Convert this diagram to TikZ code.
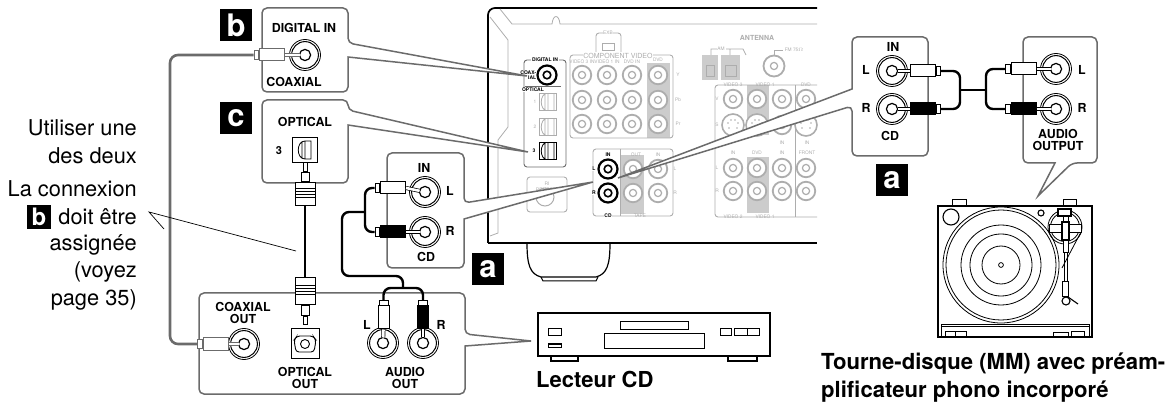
\documentclass[tikz,border=0pt]{standalone}
\usepackage{fontspec}
\setmainfont{TeX Gyre Heros}
\usetikzlibrary{positioning}
\definecolor{panelgray}{gray}{0.42}
\definecolor{backgray}{gray}{0.68}
\definecolor{fillgray}{gray}{0.80}
\tikzset{
  panel/.style={draw=panelgray, line width=1.5pt, fill=white, rounded corners=5pt},
  paneltxt/.style={font=\fontsize{12.4}{12.8}\selectfont\bfseries, align=center, inner sep=0pt},
  sidetxt/.style={font=\fontsize{21.8}{27.5}\selectfont, align=right, anchor=east, inner sep=0pt},
  captxt/.style={font=\fontsize{22}{29}\selectfont\bfseries, align=left, anchor=west, inner sep=0pt},
  tinytxt/.style={font=\fontsize{4.8}{5}\selectfont, text=backgray, inner sep=.6pt, fill=white},
  tinyblk/.style={font=\fontsize{5}{5}\selectfont\bfseries, inner sep=.6pt},
  tag/.style={fill=black, text=white, minimum size=32pt, inner sep=0pt, font=\fontsize{31}{31}\selectfont\bfseries},
  jack/.style={circle, draw=black, line width=.8pt, fill=white, minimum size=31pt, inner sep=0pt,
    path picture={
      \draw[line width=1pt] (path picture bounding box.center) circle (13.4pt);
      \draw[line width=1.2pt] (path picture bounding box.center) circle (5.6pt);}},
  backjack/.style={circle, draw=backgray, line width=1.8pt, fill=white, minimum size=18.5pt, inner sep=0pt,
    path picture={\draw[backgray, line width=1.2pt] (path picture bounding box.center) circle (3.6pt);}},
  darkjack/.style={circle, draw=black, line width=2.2pt, fill=white, minimum size=19pt, inner sep=0pt,
    path picture={\draw[line width=1.6pt] (path picture bounding box.center) circle (3.8pt);}},
  svideo/.style={circle, draw=backgray, line width=1.6pt, fill=white, minimum size=22pt, inner sep=0pt,
    path picture={
      \foreach \dx/\dy in {-4/-3,4/-3,-5/2,5/2,-2/5,2/5}
        \fill[backgray] ([shift={(\dx pt,\dy pt)}]path picture bounding box.center) circle (.9pt);}},
  plug/.style={rectangle, draw=#1, line width=1pt, minimum width=25pt, minimum height=12pt, inner sep=0pt},
  plug/.default=black,
  ferrule/.style={rectangle, draw=#1, line width=.8pt, fill=white, minimum width=4.5pt, minimum height=9pt, inner sep=0pt},
  ferrule/.default=black,
  vplug/.style={plug, minimum width=11pt, minimum height=23pt},
  vferrule/.style={ferrule, minimum width=9pt, minimum height=4.5pt},
  plugtip/.style={draw=#1, line width=.7pt, double=white, double distance=2.6pt, shorten >=5.5pt},
  plugtip/.default=black,
  blackcable/.style={line width=2.4pt, rounded corners=7pt},
  graycable/.style={draw=panelgray, line width=2.6pt, rounded corners=8pt},
  opthead/.style={rectangle, draw, line width=1pt, fill=white, minimum width=20pt, inner sep=0pt,
    path picture={
      \foreach \yy in {-3,0,3,6}
        \draw[line width=.8pt] ([yshift=\yy pt]path picture bounding box.west) -- ([yshift=\yy pt]path picture bounding box.east);}},
  optcollar/.style={rectangle, draw, line width=1pt, fill=white, minimum width=8pt, minimum height=9.5pt, inner sep=0pt},
  opttip/.style={rectangle, draw, line width=1pt, fill=white, minimum width=4pt, minimum height=8.5pt, inner sep=0pt},
  optbox/.style n args={3}{rectangle, draw=#1, line width=#3, fill=white, minimum size=#2*25pt, inner sep=0pt,
    path picture={
      \draw[#1, shift={(path picture bounding box.center)}, scale=#2, line width=.8pt]
        (0,-9) .. controls (-9,-9) and (-9,9) .. (0,9) -- (6,9) -- (6,-9) -- cycle
        (-3,-8.4) -- (-3,8.4) (0,-9) -- (0,9);}},
  tonethin/.style={line width=.8pt},
  tonemid/.style={line width=1.1pt},
}
\begin{document}
\begin{tikzpicture}[x=1pt,y=-1pt]
\useasboundingbox (0,0) rectangle (1171,406);

% receiver outline
\draw[line width=1.7pt, rounded corners=7pt] (817,8) -- (488,8) -- (488,243);
\draw[line width=1.7pt] (488,243) -- (817,243);
\draw[line width=1.2pt] (527,243) .. controls (527,265) and (530,274) .. (541,277) -- (596,277)
  .. controls (607,274) and (610,265) .. (610,243);
\draw[line width=1pt] (541,277) -- (543,281) -- (596,281) -- (598,277);
\draw[backgray, line width=.8pt] (500,9) -- (512,24) -- (552,24) .. controls (553,14) and (559,14) .. (560,24) -- (817,24);
\draw[backgray, line width=.8pt] (490,17) -- (508,40) -- (508,127) -- (498,140) -- (498,233) -- (490,236);

% grey fields
\fill[fillgray] (647,63) rectangle (670,138);
\fill[fillgray] (621,155) rectangle (644,214);
\fill[fillgray] (747,85) rectangle (769,135);
\fill[fillgray] (747,157) rectangle (769,213);

% frames on the back
\draw[panelgray, line width=.9pt, rounded corners=3pt] (524,60) rectangle (566,167);
\draw[panelgray, line width=.9pt] (525,86) -- (561,86);
\draw[backgray, line width=.9pt, rounded corners=3pt] (570,55) rectangle (673,138);
\draw[backgray, line width=.9pt, rounded corners=3pt] (593,149) rectangle (673,216);
\draw[backgray, line width=.9pt] (620,149) -- (620,216);
\draw[backgray, line width=.9pt, rounded corners=3pt] (817,85) -- (715,85) -- (715,217) -- (817,217);
\draw[backgray, line width=.9pt] (795,85) -- (795,217);
\draw[backgray, line width=.9pt, rounded corners=3pt] (596,52) -- (596,33) -- (621,33) -- (621,52);
\draw[backgray, line width=.9pt] (602,43) rectangle (614,50);
\draw[backgray, line width=.9pt, rounded corners=3pt] (527,212) -- (527,177) -- (567,177) -- (567,212) -- cycle;
\node[circle, draw=backgray, line width=1pt, minimum size=18pt] (backrem) at (545,197) {};

% back jacks
\foreach \x in {582,607,632,658}
  \foreach \y in {75,100,124}
    \node[backjack] (bk\x-\y) at (\x,\y) {};
\foreach \x/\y in {633/169,658/169,633/193,658/193,733/99,757/99,782/99,806/99,733/168,757/168,782/168,806/168,733/191,757/191,782/191,806/191,782/125}
  \node[backjack] (bk\x-\y) at (\x,\y) {};
\foreach \x in {733,757,806}
  \node[svideo] (sv\x) at (\x,125) {};
\node[backjack, minimum size=21pt] (bkfm) at (774,66) {};
\node[darkjack] (dkdig) at (547,75) {};
\node[darkjack] (dkl) at (608,169) {};
\node[darkjack] (dkr) at (608,193) {};
\node[optbox={backgray}{.68}{.9pt}] (bkopta) at (548,102) {};
\node[optbox={backgray}{.68}{.9pt}] (bkoptb) at (548,127) {};
\node[optbox={black}{.68}{1.6pt}] (bkoptc) at (548,151) {};

% antenna
\foreach \x/\w in {702/16,721/19} {
  \fill[fillgray] (\x,55) rectangle ++(\w,25);
  \draw[backgray, line width=.8pt] (\x+4,65) rectangle ++(\w-8,11);
}
\draw[backgray, line width=.8pt] (711,55) -- (711,49) -- (717,49) (726,49) -- (730,49) -- (730,55) (730,49) -- (743,49) -- (746,55);
\draw[backgray, line width=.8pt] (774,56) -- (774,50) -- (783,50);
\node[tinytxt, font=\fontsize{7}{7}\selectfont\bfseries] (antname) at (757,38) {ANTENNA};
\node[tinytxt] (antam) at (721,49) {AM};
\node[tinytxt, right=1pt of {(783,50)}] (antfm) {FM 75$\Omega$};

% texts on the back
\node[tinytxt, font=\fontsize{7}{7}\selectfont] (txcomp) at (618,56) {COMPONENT VIDEO};
\node[tinytxt] (txexb) at (608,33) {EXB};
\foreach \x/\y/\t in {582/62/VIDEO 3 IN,607/62/VIDEO 1 IN,632/62/DVD IN,658/60/DVD,678/75/Y,678/100/Pb,678/124/Pr,
    535/102/1,535/127/2,636/155/OUT,658/155/IN,640/216/TAPE,675/169/L,675/193/R,547/184/RI,546/190/REMOTE,
    733/85/VIDEO 3,765/85/VIDEO 1,806/85/DVD,733/217/VIDEO 2,765/217/VIDEO 1,717/99/V,717/125/S,717/168/L,717/191/R,
    733/153/IN,757/153/DVD,782/153/IN,782/143/IN,807/143/IN,807/153/FRONT}
  \node[tinytxt, fill=none] at (\x,\y) {\t};
\foreach \x/\y/\t in {545/60/DIGITAL IN,533/90/OPTICAL,534/151/3,608/155/IN,594/169/L,594/193/R,608/216/CD}
  \node[tinyblk, fill=white] at (\x,\y) {\t};
\node[tinyblk, align=right, anchor=east] (txcoaxback) at (537,75) {COAX-\\IAL};

% tails
\coordinate (tipb) at (527,76);
\coordinate (tipc) at (528,152);
\coordinate (tipl) at (593,182);
\coordinate (tipr) at (618,178);
\coordinate (tipo) at (531,341);
\coordinate (tipt) at (1038,196);

% panels
\draw[panel] (262,8) -- (348,8) -- (348,43) [sharp corners] -- (tipb) -- (348,57) [rounded corners=5pt] -- (348,92) -- (262,92) -- cycle;
\draw[panel] (262,100) -- (348,100) -- (348,110) [sharp corners] -- (tipc) -- (348,125) [rounded corners=5pt] -- (348,183) -- (262,183) -- cycle;
\draw[panel] (199,293) -- (465,293) -- (465,334) [sharp corners] -- (tipo) -- (465,346) [rounded corners=5pt] -- (465,394) -- (199,394) -- cycle;
\draw[panel] (387,153) -- (464,153) -- (464,203) [sharp corners] -- (tipl) -- (464,219) [rounded corners=5pt] -- (464,268) -- (387,268) -- cycle;
\draw[panel] (852,37) -- (928,37) -- (928,156) -- (852,156) -- (852,106) [sharp corners] -- (tipr) -- (852,89) [rounded corners=5pt] -- cycle;
\draw[panel] (1023,37) -- (1097,37) -- (1097,163) -- (1072,163) [sharp corners] -- (tipt) -- (1055,163) [rounded corners=5pt] -- (1023,163) -- cycle;

% tags
\node[tag] (tagb) at (236,25) {b};
\node[tag] (tagc) at (236,118) {c};
\node[tag] (taga) at (488,269) {a};
\node[tag] (tagar) at (892,180) {a};

% panel texts
\node[paneltxt] (lbdig) at (304,28) {DIGITAL IN};
\node[paneltxt] (lbcoax) at (294,82) {COAXIAL};
\node[paneltxt] (lbopt) at (305,122) {OPTICAL};
\node[paneltxt, font=\fontsize{11}{11}\selectfont\bfseries] (lbthree) at (279,151) {3};
\node[paneltxt] (lbcout) at (243,313) {COAXIAL\\OUT};
\node[paneltxt] (lbopout) at (305,378) {OPTICAL\\OUT};
\node[paneltxt] (lbauout) at (405,378) {AUDIO\\OUT};
\node[paneltxt] (lbol) at (367,325) {L};
\node[paneltxt] (lbor) at (441,325) {R};
\node[paneltxt] (lbin) at (424,168) {IN};
\node[paneltxt] (lbl) at (450,191) {L};
\node[paneltxt] (lbr) at (450,231) {R};
\node[paneltxt] (lbcd) at (426,257) {CD};
\node[paneltxt] (lbtin) at (893,47) {IN};
\node[paneltxt] (lbtl) at (866,70) {L};
\node[paneltxt] (lbtr) at (866,108) {R};
\node[paneltxt] (lbtcd) at (890,136) {CD};
\node[paneltxt] (lbpl) at (1082,70) {L};
\node[paneltxt] (lbpr) at (1082,108) {R};
\node[paneltxt] (lbaudio) at (1058,140) {AUDIO\\OUTPUT};

% jacks
\foreach \n/\x/\y in {jdig/305/55,jcoax/244/344,jol/383/343,jor/423/343,jl/425/192,jr/425/232,jtl/892/71,jtr/892/109,jpl/1056/69,jpr/1056/109}
  \node[jack] (\n) at (\x,\y) {};

% optical sockets
\node[optbox={black}{1}{1pt}] (optin) at (305,150) {};
\node[rectangle, draw, line width=1pt, fill=white, minimum width=28pt, minimum height=29pt] (optout) at (305,343.5) {};
\draw[line width=.9pt, rounded corners=3pt] (297,336) -- (313,336) -- (316,340) -- (314,352) -- (296,352) -- (294,340) -- cycle;
\node[circle, draw, line width=.9pt, minimum size=9pt, inner sep=0pt] (optoutc) at (305,344) {};

% cables
\coordinate (coaxbend) at (170,200);
\coordinate (leftbend) at (365,212);
\coordinate (outbend) at (342,245);
\coordinate (joinup) at (403,276);
\coordinate (joinout) at (403,288);
\coordinate (lbendt) at (960,90);
\coordinate (rbendt) at (986,90);

% plugs
\foreach \n/\x/\y/\c/\d in {pdig/272/55/white/panelgray,pcoax/215.5/344/white/panelgray,
    pl/393/188/white/black,pr/393/232/black/black,ppl/1023.5/69/white/black,ppr/1023.5/109/black/black}
  \node[plug=\d, fill=\c] (\n) at (\x,\y) {} node[ferrule=\d, left=0pt of \n] (\n f) {};
\foreach \n/\x/\y/\c in {ptl/922.5/71/white,ptr/922.5/109/black}
  \node[plug, fill=\c] (\n) at (\x,\y) {} node[ferrule, right=0pt of \n] (\n f) {};
\foreach \n/\x/\y/\c in {pol/383.5/317.5/white,por/423/317.5/black}
  \node[vplug, fill=\c] (\n) at (\x,\y) {} node[vferrule, above=0pt of \n] (\n f) {};

% cables between the plugs
\draw[graycable] (pdigf.west) -| (coaxbend) |- (pcoaxf.west);
\draw[blackcable] (plf.west) -| (leftbend) |- (prf.west);
\draw[blackcable] (leftbend) -| (outbend) |- (joinup) -- (joinout);
\draw[blackcable] (polf.north) |- (joinout) -| (porf.north);
\draw[blackcable] (ptlf.east) -| (lbendt) |- (ptrf.east);
\draw[blackcable] (pplf.west) -| (rbendt) |- (pprf.west);
\draw[blackcable, rounded corners=0pt] (lbendt) -- (rbendt);

% plug tips
\draw[plugtip=panelgray] (pdig.east) -- (jdig.center);
\draw[plugtip=panelgray] (pcoax.east) -- (jcoax.center);
\foreach \p/\j in {pl/jl,pr/jr,ppl/jpl,ppr/jpr}
  \draw[plugtip] (\p.east) -- (\j.center);
\foreach \p/\j in {ptl/jtl,ptr/jtr}
  \draw[plugtip] (\p.west) -- (\j.center);
\foreach \p/\j in {pol/jol,por/jor}
  \draw[plugtip] (\p.south) -- (\j.center);

% optical cable
\node[opthead, minimum height=23pt] (optheada) at (305,194.5) {};
\node[optcollar, above=0pt of optheada] (optcola) {};
\node[opttip, above=0pt of optcola] (opttipa) {};
\node[opthead, minimum height=27pt] (optheadb) at (305,291.5) {};
\node[optcollar, below=0pt of optheadb] (optcolb) {};
\node[opttip, below=0pt of optcolb] (opttipb) {};
\draw[line width=2.2pt] (optheada) -- (optheadb);

% side text
\node[sidetxt] (txuse) at (137,141.5) {Utiliser une\\des deux};
\node[sidetxt] (txcon) at (137,189) {La connexion};
\node[sidetxt] (txdoit) at (137,217) {doit être};
\node[sidetxt] (txass) at (137,272) {assignée\\(voyez\\page 35)};
\node[tag, minimum size=24pt, font=\fontsize{24}{24}\selectfont\bfseries] (tagin) at (39,217) {b};

% pointer
\coordinate (ptrtop) at (164,229);
\coordinate (ptrmid) at (149,212);
\coordinate (ptrend) at (296,251);
\draw[line width=.7pt] (ptrtop) -- (ptrmid) -- (ptrend);

% cd player
\draw[line width=1.6pt] (538,313) rectangle (770,356);
\draw[line width=1.2pt] (551,356) -- (551,361) -- (578,361) -- (578,356) (728,356) -- (728,361) -- (757,361) -- (757,356);
\draw[line width=1pt] (620,322) rectangle (688,330) (604,334) rectangle (704,348);
\draw[line width=1pt] (548,329) rectangle (561,336) (548,344) rectangle (561,347);
\foreach \x/\w in {720/11,734/13,747/12}
  \draw[line width=1pt] (\x,329) rectangle ++(\w,7);
\node[captxt] (txcd) at (536,379) {Lecteur CD};

% turntable
\draw[line width=1.3pt] (938,206) rectangle (1092,337);
\draw[line width=1pt] (952,206) -- (952,200) -- (966,200) -- (966,206) (1063,206) -- (1063,200) -- (1076,200) -- (1076,206);
\foreach \r in {58,55,40,31,19,2.4}
  \draw[tonethin] (1001,265) circle (\r pt);
\draw[tonemid] (951,217) circle (8pt) (1041,213) circle (3pt);
\draw[tonethin] (941,337) -- (941,324) -- (1089,324) -- (1089,337) (941,326) -- (1089,326);
\draw[tonethin] (945,331) rectangle (955,336) (955,331) rectangle (966,336) (1053,332) rectangle (1068,336) (1071,331) rectangle (1084,336);
\draw[tonethin] (1065,227) circle (17pt) (1065,227) circle (14.5pt);
\draw[tonethin] (1081,232) -- (1062,268);
\draw[tonethin, fill=white] (1049,224) rectangle (1081,232);
\draw[tonemid, fill=white] (1058,209) rectangle (1071,216);
\draw[tonethin] (1063,216) -- (1063,222) (1068,216) -- (1068,222);
\draw[tonemid, fill=white] (1062,222) rectangle (1069,240);
\draw[tonethin, fill=white] (1063,240) rectangle (1068,252);
\draw[tonethin] (1064,252) -- (1064,281) (1067,252) -- (1067,281);
\draw[tonethin, fill=white] (1062.5,281) rectangle (1068.5,296);
\draw[tonemid] (1066,301) circle (4pt);
\draw[tonemid] (1068,297) -- (1078,304);
\node[captxt, font=\fontsize{22.1}{28.5}\selectfont\bfseries] (txtt) at (821,377.5) {Tourne-disque (MM) avec préam-\\plificateur phono incorporé};
\end{tikzpicture}
\end{document}
